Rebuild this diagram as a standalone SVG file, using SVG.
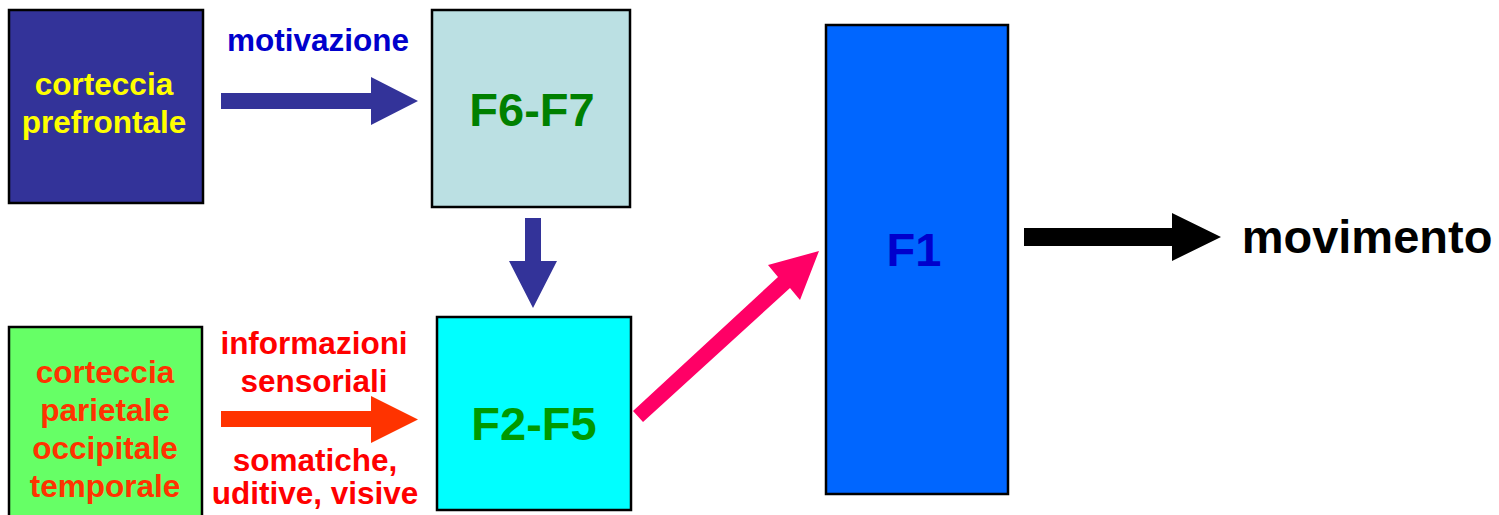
<svg xmlns="http://www.w3.org/2000/svg" width="1499" height="515" viewBox="0 0 1499 515">
<style>
text{font-family:"Liberation Sans",Arial,sans-serif;font-weight:bold;text-anchor:middle}
.box{stroke:#000;stroke-width:2.5}
.s{font-size:31.5px}
.b{font-size:47px}
</style>
<rect width="1499" height="515" fill="#fff"/>
<g id="prefrontale">
<rect class="box" x="9" y="10" width="194" height="193" fill="#333399"/>
<text class="s" x="104" y="95" fill="#FFFF00">corteccia</text>
<text class="s" x="104" y="133" fill="#FFFF00">prefrontale</text>
</g>
<g id="parietale">
<rect class="box" x="9" y="327" width="193" height="200" fill="#66FF66"/>
<text class="s" x="105" y="383" fill="#FF3300">corteccia</text>
<text class="s" x="105" y="421" fill="#FF3300">parietale</text>
<text class="s" x="105" y="459" fill="#FF3300">occipitale</text>
<text class="s" x="105" y="497" fill="#FF3300">temporale</text>
</g>
<g id="f6f7">
<rect class="box" x="432" y="10" width="198" height="197" fill="#BBE0E3"/>
<text class="b" x="532" y="126" fill="#008000">F6-F7</text>
</g>
<g id="f2f5">
<rect class="box" x="437" y="317" width="194" height="193" fill="#00FFFF"/>
<text class="b" x="534" y="440" fill="#009900">F2-F5</text>
</g>
<g id="f1">
<rect class="box" x="826" y="25" width="182" height="469" fill="#0066FF"/>
<text class="b" x="914" y="266" fill="#0000CC">F1</text>
</g>
<g id="labels">
<text class="s" x="318" y="51" fill="#0000CC">motivazione</text>
<text class="s" x="314" y="354" fill="#FF0000">informazioni</text>
<text class="s" x="314" y="392" fill="#FF0000">sensoriali</text>
<text class="s" x="315" y="471" fill="#FF0000">somatiche,</text>
<text class="s" x="315" y="504" fill="#FF0000">uditive, visive</text>
<text class="b" x="1367" y="253" fill="#000">movimento</text>
</g>
<g id="connectors">
<polygon points="221,93 371,93 371,77 418,101 371,125 371,109 221,109" fill="#333399"/>
<polygon points="525,218 541,218 541,261 557,261 533,308 509,261 525,261" fill="#333399"/>
<polygon points="221,411 371,411 371,396 418,419.5 371,443 371,427 221,427" fill="#FF3300"/>
<polygon points="633,411 778,277 768,265 819,251 800,300 790,288 643,422" fill="#FF0066"/>
<polygon points="1024,228 1172,228 1172,213 1221,237 1172,261 1172,246 1024,246" fill="#000"/>
</g>
</svg>
